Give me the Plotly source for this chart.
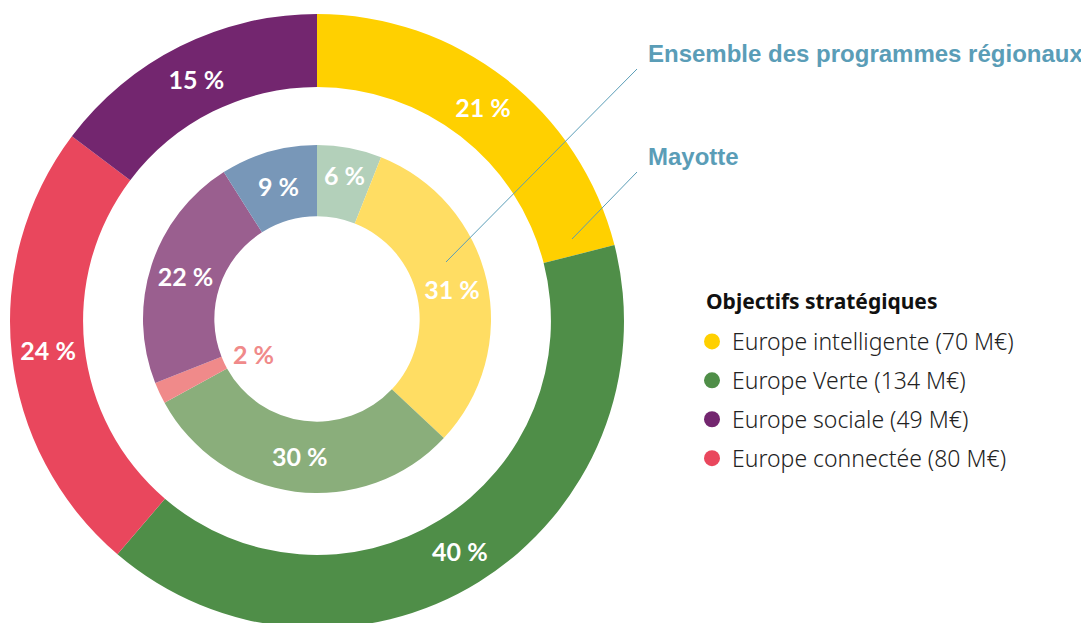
import plotly.graph_objects as go
import math

# outer ring : Mayotte (M€)
mayotte_labels = ['Europe intelligente', 'Europe Verte', 'Europe connectée', 'Europe sociale']
mayotte_values = [70, 134, 80, 49]
mayotte_colors = ['#FFD000', '#4F8E48', '#E9475D', '#73266F']

# inner ring : ensemble des programmes régionaux (%)
regions_labels = ['Autre', 'Europe intelligente', 'Europe Verte', 'Europe connectée', 'Europe sociale', 'Assistance']
regions_values = [6, 31, 30, 2, 22, 9]
regions_colors = ['#B3D0BA', '#FFDD63', '#8AAE7B', '#F08A8A', '#9A5F8F', '#7897B8']

legend_title = 'Objectifs stratégiques'
legend_names = ['Europe intelligente (70 M€)', 'Europe Verte (134 M€)', 'Europe sociale (49 M€)', 'Europe connectée (80 M€)']
legend_colors = ['#FFD000', '#4F8E48', '#73266F', '#E9475D']

W, H = 1089, 623
OFF = 8  # page margin around the plot div
PCT_FONT = dict(family='Lato', size=25, color='white', weight=700)
LABEL_COLOR = '#5A9DB7'


def px_x(a, b):
    return [(a - OFF) / W, (b - OFF) / W]


def px_y(top, bottom):
    return [max(0, (H - (bottom - OFF)) / H), min(1, (H - (top - OFF)) / H)]


total = sum(mayotte_values)
mayotte_pct = [round(v / total * 100) for v in mayotte_values]

fig = go.Figure()

fig.add_trace(go.Pie(
    labels=mayotte_labels, values=mayotte_values, text=mayotte_pct,
    texttemplate='%{text} %', textposition='inside', insidetextorientation='horizontal',
    textfont=PCT_FONT, marker=dict(colors=mayotte_colors, line=dict(width=0)),
    hole=0.762, sort=False, direction='clockwise', rotation=0, showlegend=False,
    domain=dict(x=px_x(10, 624), y=px_y(14, 628)),
))

# the 2 % slice gets its label in the hole
pos = ['none' if v < 3 else 'inside' for v in regions_values]
fig.add_trace(go.Pie(
    labels=regions_labels, values=regions_values,
    texttemplate='%{value} %', textposition=pos, insidetextorientation='horizontal',
    textfont=PCT_FONT, marker=dict(colors=regions_colors, line=dict(width=0)),
    hole=0.59, sort=False, direction='clockwise', rotation=0, showlegend=False,
    domain=dict(x=px_x(143, 491), y=px_y(145, 493)),
))

# legend with round markers
for name, c in zip(legend_names, legend_colors):
    fig.add_trace(go.Scatter(x=[None], y=[None], mode='markers', name=name,
                             marker=dict(color=c, size=17, symbol='circle'),
                             legendgroup=name))

# label of the small slice, placed from its angle
cx, cy = 317, 324
before = sum(regions_values[:3]) + regions_values[3] / 2
ang = before / sum(regions_values) * 2 * math.pi
r = 70
fig.add_annotation(x=cx + r * math.sin(ang), y=cy - r * math.cos(ang), text='2 %',
                   showarrow=False, font=dict(family='Lato', size=25, color='#F08A8A', weight=700))

# ring names and pointer lines
fig.add_annotation(x=646, y=53, text='Ensemble des programmes régionaux', showarrow=False,
                   xanchor='left', font=dict(family='Liberation Sans', size=24, color=LABEL_COLOR, weight=700))
fig.add_annotation(x=646, y=156, text='Mayotte', showarrow=False,
                   xanchor='left', font=dict(family='Liberation Sans', size=24, color=LABEL_COLOR, weight=700))
fig.add_shape(type='line', x0=637, y0=69, x1=446, y1=262, line=dict(color=LABEL_COLOR, width=1))
fig.add_shape(type='line', x0=637, y0=172, x1=572, y1=239, line=dict(color=LABEL_COLOR, width=1))

# legend heading
fig.add_annotation(x=704, y=301, text='<b>' + legend_title + '</b>', showarrow=False, xanchor='left',
                   font=dict(family='Noto Sans', size=21, color='#111'))

fig.update_layout(
    width=W, height=H, margin=dict(l=0, r=0, t=0, b=0),
    paper_bgcolor='white', plot_bgcolor='white',
    xaxis=dict(range=[OFF, W + OFF], visible=False, fixedrange=True),
    yaxis=dict(range=[H + OFF, OFF], visible=False, fixedrange=True),
    legend=dict(x=(692 - OFF) / W, y=1 - (320 - OFF) / H, xanchor='left', yanchor='top',
                font=dict(family='Noto Sans', size=23, color='#222', weight=300),
                tracegroupgap=6, itemsizing='trace', bgcolor='rgba(0,0,0,0)'),
)

fig.write_html('out.html')
